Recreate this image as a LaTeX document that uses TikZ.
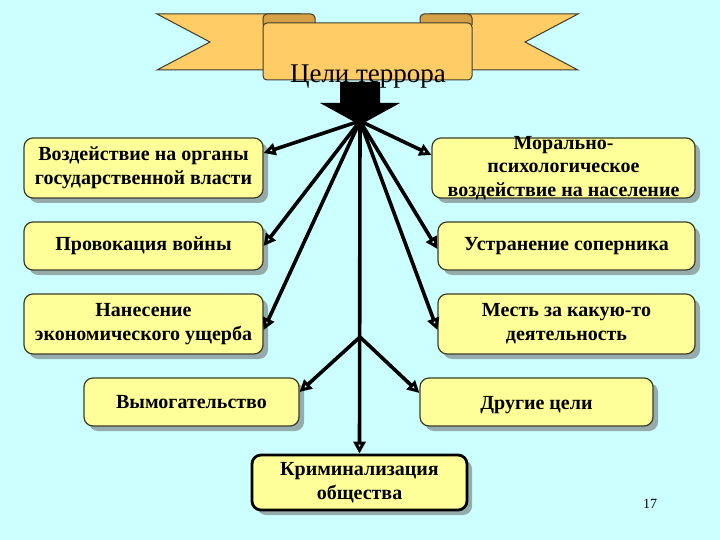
\documentclass[tikz,border=0pt]{standalone}
\usepackage{fontspec}
\setmainfont{Liberation Serif}
\usepackage{tikz}
\usetikzlibrary{arrows.meta,shadows}

\definecolor{bgcyan}{RGB}{204,255,255}
\definecolor{boxyellow}{RGB}{255,255,153}
\definecolor{boxline}{RGB}{60,60,45}
\definecolor{ribbon}{RGB}{255,204,102}
\definecolor{ribbondark}{RGB}{214,160,70}

\begin{document}
\begin{tikzpicture}[x=1pt,y=-1pt,
    goal/.style={draw=boxline,line width=1.2pt,fill=boxyellow,rounded corners=9pt,
        drop shadow={shadow xshift=5pt,shadow yshift=-5pt,opacity=0.6,fill=black!55},
        align=center,font=\fontsize{20}{24}\selectfont\bfseries,inner sep=2pt},
    goaltext/.style={align=center,font=\fontsize{20}{23.5}\selectfont\bfseries},
    link/.style={line width=3.6pt,-{Triangle[open,length=12pt,width=12pt]}}]
    \useasboundingbox[fill=bgcyan] (0,0) rectangle (720,540);

    % banner
    \filldraw[fill=ribbon,draw=boxline,line width=1pt] (157,14) -- (300,14) -- (300,70) -- (157,70) -- (210,42) -- cycle;
    \filldraw[fill=ribbon,draw=boxline,line width=1pt] (578,14) -- (430,14) -- (430,70) -- (578,70) -- (525,42) -- cycle;
    \filldraw[fill=ribbondark,draw=boxline,line width=1pt,rounded corners=4pt] (263,25) -- (263,14) -- (315,14) -- (315,25);
    \filldraw[fill=ribbondark,draw=boxline,line width=1pt,rounded corners=4pt] (420,25) -- (420,14) -- (472,14) -- (472,25);
    \filldraw[fill=ribbon,draw=boxline,line width=1pt,rounded corners=4pt] (263,23) rectangle (472,80);

    % big arrow
    \fill (340,82) -- (380,82) -- (380,103) -- (400,103) -- (360,125) -- (320,103) -- (340,103) -- cycle;
    \node[font=\fontsize{27}{30}\selectfont] (title) at (368,77) {Цели террора};
    \coordinate (hub) at (360,121);
    \coordinate (fork) at (360,337);

    \node[goal,minimum width=239pt,minimum height=60pt] (organy) at (143.5,168) {Воздействие на органы\\государственной власти};
    \node[goal,minimum width=239pt,minimum height=48pt] (voina) at (143.5,246) {Провокация войны};
    \node[goal,minimum width=239pt,minimum height=60pt] (ushcherb) at (143.5,324) {Нанесение\\экономического ущерба};
    \node[goal,minimum width=215pt,minimum height=48pt] (vymog) at (191.5,402) {Вымогательство};
    \node[goal,minimum width=263pt,minimum height=60pt] (moral) at (563.5,168) {};
    \node[goaltext] (moraltext) at (moral.center) {Морально-\\психологическое\\воздействие на население};
    \node[goal,minimum width=257pt,minimum height=48pt] (sopernik) at (566.5,246) {Устранение соперника};
    \node[goal,minimum width=257pt,minimum height=60pt] (mest) at (566.5,324) {Месть за какую-то\\деятельность};
    \node[goal,minimum width=233pt,minimum height=48pt,text height=18pt,text depth=4pt] (drugie) at (536.5,402) {Другие цели};
    \node[goal,draw=black,line width=2.8pt,minimum width=215pt,minimum height=55pt] (krimin) at (359.5,482.5) {Криминализация\\общества};

    \draw[link] (hub) -- ([yshift=15pt]organy.east);
    \draw[link] (hub) -- (voina.east);
    \draw[link] (hub) -- ([yshift=-6pt]ushcherb.east);
    \draw[link] (hub) -- ([yshift=13pt]moral.west);
    \draw[link] (hub) -- ([yshift=-3pt]sopernik.west);
    \draw[link] (hub) -- ([yshift=-6pt]mest.west);
    \draw[link] (hub) -- (krimin.north);
    \draw[link] (fork) -- ([yshift=10pt]vymog.east);
    \draw[link] (fork) -- ([yshift=9pt]drugie.west);

    \node[font=\fontsize{14}{16}\selectfont] (page) at (650,504) {17};
\end{tikzpicture}
\end{document}
